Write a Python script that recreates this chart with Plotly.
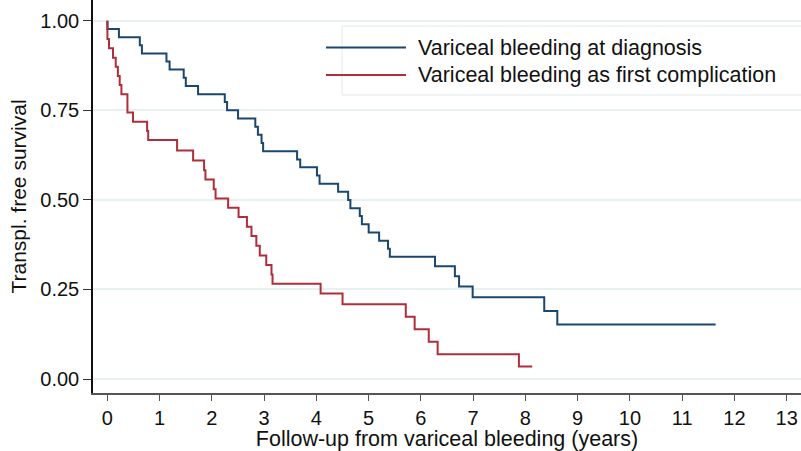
import plotly.graph_objects as go

# Kaplan-Meier step estimates: time (years) of each drop and survival after it
diag_time = [0.0, 0.0, 0.22, 0.62, 0.66, 1.13, 1.19, 1.46, 1.50, 1.735, 2.246, 2.29,
             2.50, 2.83, 2.88, 2.95, 2.98, 3.63, 3.69, 4.01, 4.06, 4.415, 4.607, 4.65,
             4.83, 4.87, 5.00, 5.20, 5.37, 5.405, 6.27, 6.65, 6.73, 6.99, 8.36, 8.61, 11.64]
diag_surv = [1.0, 0.977, 0.954, 0.932, 0.909, 0.886, 0.864, 0.841, 0.818, 0.795, 0.773, 0.750,
             0.727, 0.704, 0.682, 0.659, 0.636, 0.613, 0.591, 0.568, 0.545, 0.523, 0.500, 0.477,
             0.455, 0.432, 0.409, 0.386, 0.364, 0.341, 0.315, 0.287, 0.258, 0.228, 0.190, 0.152, 0.152]

first_time = [0.0, 0.0, 0.03, 0.107, 0.159, 0.20, 0.235, 0.268, 0.383, 0.49, 0.76, 0.78,
              1.333, 1.64, 1.85, 1.876, 2.035, 2.07, 2.31, 2.51, 2.67, 2.757, 2.85, 2.916,
              3.04, 3.14, 3.16, 4.08, 4.50, 5.71, 5.88, 6.15, 6.32, 7.875, 8.13]
first_surv = [1.0, 0.949, 0.923, 0.897, 0.872, 0.846, 0.821, 0.795, 0.744, 0.718, 0.692, 0.667,
              0.638, 0.610, 0.583, 0.557, 0.530, 0.504, 0.478, 0.452, 0.425, 0.399, 0.372, 0.345,
              0.318, 0.292, 0.266, 0.239, 0.209, 0.174, 0.139, 0.104, 0.069, 0.035, 0.035]

series_names = ["Variceal bleeding at diagnosis", "Variceal bleeding as first complication"]
series_colors = ["#1a476f", "#b02e3b"]

x_ticks = list(range(0, 14))
y_ticks = [0.0, 0.25, 0.5, 0.75, 1.0]
y_tick_text = ["0.00", "0.25", "0.50", "0.75", "1.00"]

W, H = 801, 451
ML, MR, MT, MB = 93, 0, 0, 58
FONT = "Liberation Sans, Arial, sans-serif"


def px_x(p):
    return (p - ML) / (W - ML - MR)


def px_y(p):
    return (H - MB - p) / (H - MT - MB)


fig = go.Figure()
for t, s, name, col in zip([diag_time, first_time], [diag_surv, first_surv],
                           series_names, series_colors):
    fig.add_trace(go.Scatter(x=t, y=s, mode="lines", name=name,
                             line=dict(color=col, width=2, shape="hv"),
                             showlegend=False))

# legend box with long line keys
shapes = [dict(type="rect", xref="paper", yref="paper",
               x0=px_x(342), x1=px_x(812), y0=px_y(95), y1=px_y(26),
               line=dict(color="#e3e9eb", width=1), fillcolor="rgba(0,0,0,0)", layer="below")]
annotations = []
for i, (name, col) in enumerate(zip(series_names, series_colors)):
    yy = px_y(47.5 + i * 27.5)
    shapes.append(dict(type="line", xref="paper", yref="paper",
                       x0=px_x(326), x1=px_x(406), y0=yy, y1=yy,
                       line=dict(color=col, width=2)))
    annotations.append(dict(xref="paper", yref="paper", x=px_x(416), y=yy,
                            xanchor="left", yanchor="middle", showarrow=False,
                            text=name, font=dict(family=FONT, size=21.5, color="#111111")))

fig.update_layout(
    width=W, height=H,
    margin=dict(l=ML, r=MR, t=MT, b=MB, pad=0),
    paper_bgcolor="white", plot_bgcolor="white",
    font=dict(family=FONT, size=20, color="#111111"),
    shapes=shapes, annotations=annotations,
    xaxis=dict(range=[-0.276, 13.274], tickvals=x_ticks, ticks="outside", ticklen=6,
               tickwidth=1, tickcolor="#555555", showline=True, linecolor="#555555",
               linewidth=1.5, showgrid=False, zeroline=False, automargin=False,
               tickfont=dict(size=20),
               title=dict(text="Follow-up from variceal bleeding (years)",
                          font=dict(size=21.5), standoff=0)),
    yaxis=dict(range=[-0.039, 1.058], tickvals=y_ticks, ticktext=y_tick_text,
               ticks="outside", ticklen=8, tickwidth=1, tickcolor="#333333",
               showline=True, linecolor="#111111", linewidth=1.5,
               showgrid=True, gridcolor="#e8f0f2", gridwidth=1.5, zeroline=False,
               automargin=False, tickfont=dict(size=20),
               title=dict(text="Transpl. free survival", font=dict(size=21), standoff=8)),
)

fig.write_html("out.html")
